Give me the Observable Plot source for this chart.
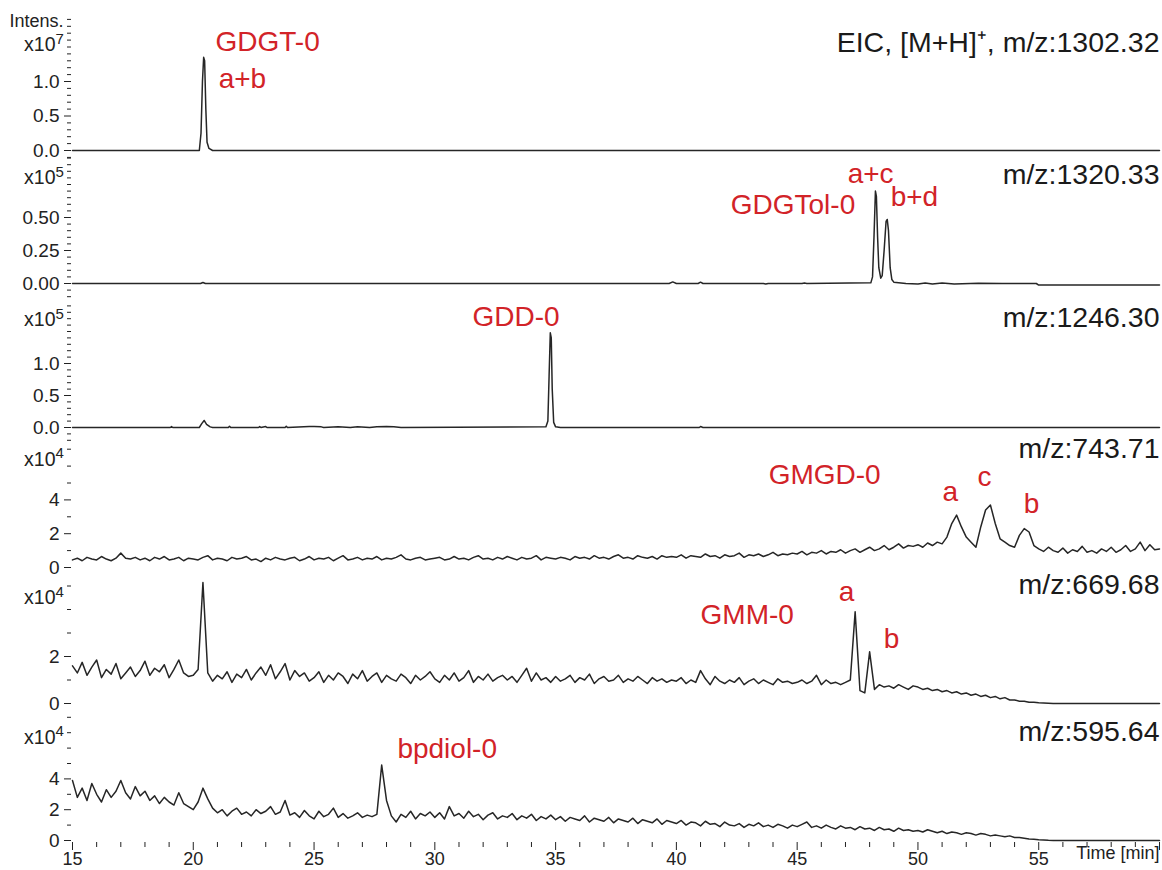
<!DOCTYPE html>
<html><head><meta charset="utf-8">
<script src="https://cdn.jsdelivr.net/npm/d3@7"></script>
<script src="https://cdn.jsdelivr.net/npm/@observablehq/plot@0.6"></script>
<style>
html,body{margin:0;padding:0;background:#fff;}
#chart{position:relative;width:1162px;height:870px;overflow:hidden;font-family:"Liberation Sans",Arial,Helvetica,sans-serif;}
#chart svg{position:absolute;left:0;}
</style></head><body><div id="chart"></div>
<script>
// ---------------- DATA ----------------
// time axis
const timeDomain = [15, 60];
const xMajorTicks = [15, 20, 25, 30, 35, 40, 45, 50, 55, 60];
const xMajorLabels = ["15", "20", "25", "30", "35", "40", "45", "50", "55", ""];
const xMinorTicks = [16,17,18,19,21,22,23,24,26,27,28,29,31,32,33,34,36,37,38,39,41,42,43,44,46,47,48,49,51,52,53,54,56,57,58,59];
const timeLabel = "Time [min]";

// sampled traces: start time and sampling step (min)
const sampleStart = 15.0, sampleStep = 0.2;

// Panel 1: EIC m/z 1302.32 (x10^7)
const p1Trace = [[15,0],[20.25,0],[20.32,0.25],[20.38,1.0],[20.43,1.35],[20.47,1.30],[20.52,0.6],[20.57,0.12],[20.65,0.03],[20.8,0],[60,0]];
// Panel 2: m/z 1320.33 (x10^5)
const p2Trace = [[15,0],[20.3,0],[20.4,0.008],[20.5,0],[39.7,0],[39.85,0.012],[40.0,0],[40.9,0],[41.0,0.01],[41.1,0],[43.6,0],[43.7,-0.004],[43.8,0],[45.2,0],[45.3,0.004],[45.4,0],[48.05,0.005],[48.12,0.05],[48.18,0.35],[48.24,0.70],[48.28,0.66],[48.33,0.35],[48.38,0.12],[48.46,0.04],[48.52,0.06],[48.6,0.25],[48.68,0.47],[48.73,0.485],[48.78,0.40],[48.85,0.12],[48.92,0.03],[49.0,0.01],[49.5,0],[50.0,-0.004],[50.3,0.004],[50.6,-0.004],[51.0,0.003],[51.5,-0.003],[52.5,0.002],[53.5,0],[54.9,0],[55.0,-0.012],[60,-0.012]];
// Panel 3: m/z 1246.30 (x10^5)
const p3Trace = [[15,0],[19.05,0],[19.1,0.015],[19.15,0],[20.25,0],[20.35,0.06],[20.45,0.11],[20.55,0.05],[20.7,0.01],[20.8,0],[21.45,0],[21.5,0.02],[21.55,0],[22.7,0],[22.75,0.015],[22.8,0],[23.0,0.015],[23.05,0],[23.8,0],[23.85,0.02],[23.9,0],[24.8,0.015],[25.0,0.015],[25.3,0.01],[25.4,0],[26.0,0.012],[26.5,0],[26.8,0.012],[27.3,0],[27.6,0.01],[28.0,0.015],[28.3,0.01],[28.6,0],[34.6,0.01],[34.68,0.1],[34.73,0.8],[34.78,1.48],[34.82,1.4],[34.86,0.6],[34.92,0.08],[35.0,0.01],[35.2,0],[40.95,0],[41.0,0.015],[41.1,0],[60,0]];
// Panel 4: m/z 743.71 (x10^4), sampled 15.0..60.0
const p4Values = [
 0.45,0.55,0.40,0.60,0.50,0.45,0.65,0.50,0.40,0.55,0.85,0.55,0.50,0.60,0.45,0.55,0.40,0.60,0.50,0.65,0.45,0.50,0.60,0.40,0.55,
 0.50,0.45,0.60,0.70,0.45,0.55,0.50,0.40,0.60,0.50,0.55,0.65,0.45,0.50,0.35,0.55,0.45,0.60,0.50,0.45,0.55,0.60,0.40,0.50,0.65,
 0.45,0.55,0.50,0.60,0.40,0.55,0.70,0.45,0.50,0.60,0.45,0.55,0.50,0.65,0.45,0.55,0.50,0.60,0.75,0.50,0.45,0.55,0.60,0.45,0.50,
 0.55,0.60,0.45,0.50,0.65,0.50,0.55,0.45,0.60,0.70,0.50,0.55,0.45,0.60,0.50,0.65,0.55,0.45,0.60,0.50,0.55,0.70,0.45,0.60,0.55,
 0.50,0.60,0.55,0.45,0.65,0.55,0.60,0.50,0.70,0.55,0.60,0.50,0.65,0.75,0.55,0.60,0.50,0.70,0.60,0.55,0.65,0.50,0.70,0.60,0.65,
 0.60,0.75,0.55,0.70,0.65,0.60,0.80,0.65,0.70,0.55,0.75,0.65,0.70,0.85,0.60,0.75,0.70,0.80,0.65,0.75,0.90,0.70,0.80,0.75,0.85,
 0.80,0.95,0.75,0.90,0.85,1.00,0.80,0.95,0.90,1.05,0.85,1.00,1.10,0.90,1.05,1.20,1.00,1.10,1.30,1.05,1.20,1.40,1.15,1.30,1.25,
 1.35,1.20,1.45,1.30,1.50,1.40,1.80,2.60,3.10,2.40,1.80,1.50,1.20,2.40,3.40,3.70,2.60,1.70,1.50,1.30,1.20,1.90,2.30,2.10,1.30,
 1.10,0.95,1.20,1.00,0.90,1.15,0.85,1.05,0.95,1.25,0.90,1.00,0.85,1.10,0.95,1.20,0.90,1.05,1.30,0.95,1.10,1.50,1.00,1.35,1.05,
 1.10];
// Panel 5: m/z 669.68 (x10^4), sampled 15.0..55.6, then flat
const p5Values = [
 1.60,1.30,1.75,1.20,1.55,1.85,1.10,1.45,1.25,1.70,1.05,1.30,1.55,1.15,1.40,1.80,1.20,1.50,1.35,1.65,1.10,1.45,1.85,1.30,1.15,
 1.20,1.45,5.15,1.30,0.95,1.20,1.05,1.35,0.90,1.25,1.10,1.45,1.00,1.30,1.55,1.20,1.65,1.05,1.35,1.70,1.00,1.40,1.15,1.30,0.95,
 1.10,1.35,0.90,1.20,1.00,1.30,1.15,0.85,1.25,1.05,1.40,0.95,1.15,1.30,0.90,1.20,1.05,0.95,1.25,1.10,0.85,1.20,1.00,1.15,1.35,
 1.05,0.90,1.20,1.00,1.30,0.95,1.10,1.40,0.90,1.15,1.00,1.25,0.95,1.10,1.20,1.00,1.15,0.90,1.20,1.50,0.95,1.30,1.00,1.10,0.90,
 1.15,0.95,1.05,1.20,0.90,1.10,1.00,1.25,0.85,1.05,1.15,0.95,1.00,1.20,0.90,1.05,0.95,1.15,1.00,0.85,1.10,0.95,1.05,0.90,1.00,
 0.95,1.10,0.85,1.00,0.90,1.40,1.05,0.80,1.15,0.95,0.85,1.00,0.90,1.10,0.80,0.95,1.05,0.85,1.00,0.90,0.80,1.05,0.90,0.95,0.85,
 0.90,1.00,0.85,0.95,1.20,0.80,1.00,0.85,0.90,0.80,0.90,1.00,3.90,0.55,0.45,2.20,0.60,0.80,0.70,0.75,0.65,0.80,0.70,0.60,0.75,
 0.70,0.60,0.65,0.55,0.60,0.50,0.55,0.45,0.50,0.40,0.45,0.35,0.40,0.30,0.35,0.25,0.30,0.20,0.25,0.15,0.15,0.10,0.10,0.05,0.05,
 0.03,0.02,0.01,0.00];
const p5Tail = [[60, 0]];
// Panel 6: m/z 595.64 (x10^4), sampled 15.0..55.6, then flat
const p6Values = [
 3.90,2.80,3.40,2.60,3.70,3.00,2.50,3.30,2.80,3.20,3.90,3.10,2.70,3.50,2.90,3.20,2.60,2.90,2.40,2.80,2.50,2.30,3.10,2.40,2.20,
 2.00,2.50,3.40,2.70,2.10,1.80,2.00,1.60,1.90,2.10,1.70,1.85,1.60,2.00,1.75,1.90,2.20,1.70,1.85,2.60,1.65,1.80,1.50,1.95,1.60,
 1.40,1.90,1.55,1.70,2.10,1.50,1.75,1.45,1.60,1.80,1.50,1.65,1.55,1.70,4.90,2.60,1.60,1.20,1.70,1.50,1.90,1.40,1.75,1.60,1.85,
 1.50,1.80,1.40,2.20,1.60,1.75,1.45,1.90,1.55,1.70,1.35,1.65,1.80,1.40,1.60,1.50,1.75,1.35,1.60,1.45,1.70,1.30,1.55,1.40,1.65,
 1.35,1.55,1.25,1.50,1.40,1.30,1.60,1.20,1.45,1.35,1.25,1.50,1.15,1.40,1.30,1.20,1.45,1.10,1.35,1.25,1.15,1.40,1.05,1.30,1.20,
 1.10,1.30,1.00,1.20,1.15,0.95,1.25,1.05,1.10,0.90,1.20,1.00,0.95,1.10,0.85,1.05,0.95,1.15,0.90,1.00,0.85,1.05,0.95,0.80,1.00,
 0.90,1.05,1.20,0.85,0.95,0.80,1.00,0.85,0.75,0.95,0.80,0.85,0.70,0.90,0.75,0.80,0.65,0.85,0.70,0.75,0.60,0.80,0.65,0.70,0.60,
 0.65,0.55,0.70,0.60,0.50,0.60,0.45,0.55,0.50,0.40,0.50,0.45,0.35,0.45,0.40,0.30,0.35,0.30,0.25,0.30,0.20,0.20,0.15,0.10,0.08,
 0.05,0.03,0.01,0.00];
const p6Tail = [[60, 0]];

// y-axis ticks and labels per panel
const p1Major = [0, 0.5, 1.0], p1MajorLabels = ["0.0", "0.5", "1.0"];
const p1Minor = [-0.1,0.1,0.2,0.3,0.4,0.6,0.7,0.8,0.9,1.1,1.2,1.3,1.4,1.5,1.6,1.7,1.8,1.9];
const p2Major = [0, 0.25, 0.5], p2MajorLabels = ["0.00", "0.25", "0.50"];
const p2Minor = [-0.1,-0.05,0.05,0.1,0.15,0.2,0.3,0.35,0.4,0.45,0.55,0.6,0.65,0.7,0.75,0.8,0.85,0.9,0.95];
const p3Major = [0, 0.5, 1.0], p3MajorLabels = ["0.0", "0.5", "1.0"];
const p3Minor = [-0.2,-0.1,0.1,0.2,0.3,0.4,0.6,0.7,0.8,0.9,1.1,1.2,1.3,1.4,1.5,1.6,1.7,1.8,1.9];
const p4Major = [0, 2, 4], p4MajorLabels = ["0", "2", "4"];
const p4Minor = [1, 3, 5, 6, 7];
const p5Major = [0, 2], p5MajorLabels = ["0", "2"];
const p5Minor = [1, 3, 4, 5];
const p6Major = [0, 2, 4], p6MajorLabels = ["0", "2", "4"];
const p6Minor = [1, 3, 5, 6, 7, 8];

// intensity multipliers (exponent of 10) and their vertical anchor (data units)
const exponents = ["7", "5", "5", "4", "4", "4"];
const exponentAt = [1.53, 0.80, 1.68, 6.38, 4.50, 6.68];
const intensLabel = "Intens.", intensAt = 1.87;

// trace titles (right) and their vertical anchor (data units)
const traceTitles = ["EIC, [M+H]\u207A, m/z:1302.32", "m/z:1320.33", "m/z:1246.30", "m/z:743.71", "m/z:669.68", "m/z:595.64"];
const traceTitleAt = [1.56, 0.823, 1.71, 7.02, 5.05, 7.05];

// compound annotations: label, time, intensity (panel units)
const p1NoteLabels = ["GDGT-0", "a+b"], p1NoteTimes = [20.92, 21.05], p1NoteValues = [1.574, 1.04];
const p2NoteLabels = ["a+c", "GDGTol-0", "b+d"], p2NoteTimes = [47.09, 42.25, 48.87], p2NoteValues = [0.830, 0.595, 0.656];
const p3NoteLabels = ["GDD-0"], p3NoteTimes = [31.56], p3NoteValues = [1.728];
const p4NoteLabels = ["GMGD-0", "a", "c", "b"], p4NoteTimes = [43.82, 51.02, 52.47, 54.38], p4NoteValues = [5.48, 4.47, 5.36, 3.76];
const p5NoteLabels = ["GMM-0", "a", "b"], p5NoteTimes = [41.0, 46.72, 48.58], p5NoteValues = [3.77, 4.75, 2.75];
const p6NoteLabels = ["bpdiol-0"], p6NoteTimes = [28.45], p6NoteValues = [5.95];

// ---------------- LAYOUT / STYLE ----------------
const W = 1162, xRange = [72, 1159], axisLeft = 71;
const red = "#d22328", ink = "#222222", traceColor = "#262626";
const fontFamily = "'Liberation Sans', Arial, Helvetica, sans-serif";

function sampled(values, tail) {
  const pts = values.map((v, i) => [+(sampleStart + i * sampleStep).toFixed(2), v]);
  return tail ? pts.concat(tail) : pts;
}
function notes(labels, times, values) {
  return labels.map((label, i) => ({label, t: times[i], v: values[i]}));
}

const panels = [
  {top: 0,   h: 152, zero: 150, ppu: 69,   dom: [-0.1, 2.0], trace: p1Trace, major: p1Major, majorLabels: p1MajorLabels, minor: p1Minor, notes: notes(p1NoteLabels, p1NoteTimes, p1NoteValues)},
  {top: 152, h: 144, zero: 131, ppu: 132,  dom: [-0.1, 1.0], trace: p2Trace, major: p2Major, majorLabels: p2MajorLabels, minor: p2Minor, notes: notes(p2NoteLabels, p2NoteTimes, p2NoteValues)},
  {top: 296, h: 140, zero: 131, ppu: 64,   dom: [-0.2, 2.0], trace: p3Trace, major: p3Major, majorLabels: p3MajorLabels, minor: p3Minor, notes: notes(p3NoteLabels, p3NoteTimes, p3NoteValues)},
  {top: 436, h: 138, zero: 131, ppu: 16.9, dom: [-1, 8],     trace: sampled(p4Values), major: p4Major, majorLabels: p4MajorLabels, minor: p4Minor, notes: notes(p4NoteLabels, p4NoteTimes, p4NoteValues)},
  {top: 574, h: 138, zero: 129, ppu: 23.5, dom: [-1, 6],     trace: sampled(p5Values, p5Tail), major: p5Major, majorLabels: p5MajorLabels, minor: p5Minor, notes: notes(p5NoteLabels, p5NoteTimes, p5NoteValues)},
  {top: 712, h: 158, zero: 128, ppu: 15.4, dom: [0, 8.3],    trace: sampled(p6Values, p6Tail), major: p6Major, majorLabels: p6MajorLabels, minor: p6Minor, notes: notes(p6NoteLabels, p6NoteTimes, p6NoteValues), xaxis: true}
];

const chart = document.getElementById("chart");
panels.forEach((p, k) => {
  const marks = [
    Plot.axisY({ticks: p.minor, tickSize: 4, tickFormat: () => "", label: null}),
    Plot.axisY({ticks: p.major, tickSize: 7, tickPadding: 5, fontSize: 19, label: null,
      tickFormat: d => p.majorLabels[p.major.indexOf(d)]}),
    Plot.text([{v: exponentAt[k]}], {y: "v", frameAnchor: "left", text: () => "x10", textAnchor: "end", dx: -16, fontSize: 19.5, fill: ink}),
    Plot.text([{v: exponentAt[k]}], {y: "v", frameAnchor: "left", text: () => exponents[k], textAnchor: "start", dx: -16, dy: -6, fontSize: 15, fill: ink}),
    Plot.line(p.trace, {x: d => d[0], y: d => d[1], stroke: traceColor, strokeWidth: 1.5, strokeLinejoin: "round"}),
    Plot.text([{t: timeDomain[1], v: traceTitleAt[k], label: traceTitles[k]}], {x: "t", y: "v", text: "label", textAnchor: "end", fontSize: 28.5, fill: "#1a1a1a"}),
    Plot.text(p.notes, {x: "t", y: "v", text: "label", textAnchor: "start", fontSize: 28, fill: red})
  ];
  if (k === 0) {
    marks.push(Plot.text([{v: intensAt}], {y: "v", frameAnchor: "left", text: () => intensLabel, textAnchor: "end", dx: -8, fontSize: 18, fill: ink}));
  }
  if (p.xaxis) {
    marks.push(
      Plot.axisX({ticks: xMinorTicks, tickSize: 5, tickFormat: () => "", label: null}),
      Plot.axisX({ticks: xMajorTicks, tickSize: 8, tickPadding: 2, fontSize: 18, label: null,
        tickFormat: d => xMajorLabels[xMajorTicks.indexOf(d)]}),
      Plot.text([{t: timeDomain[1]}], {x: "t", frameAnchor: "bottom", text: () => timeLabel, textAnchor: "end", dy: 16, fontSize: 18, fill: ink})
    );
  }
  const frameBottom = p.xaxis ? p.zero + 2 : p.h;
  const svg = Plot.plot({
    width: W, height: p.h,
    marginLeft: axisLeft, marginRight: W - xRange[1], marginTop: 0, marginBottom: p.h - frameBottom,
    x: {domain: timeDomain, range: xRange, axis: p.xaxis ? undefined : null},
    y: {domain: p.dom, range: [p.zero - p.dom[0] * p.ppu, p.zero - p.dom[1] * p.ppu]},
    style: {background: "transparent", overflow: "visible", color: ink, fontFamily: fontFamily, fontSize: "18px"},
    marks
  });
  svg.style.top = p.top + "px";
  chart.appendChild(svg);
});
</script>
</body></html>
